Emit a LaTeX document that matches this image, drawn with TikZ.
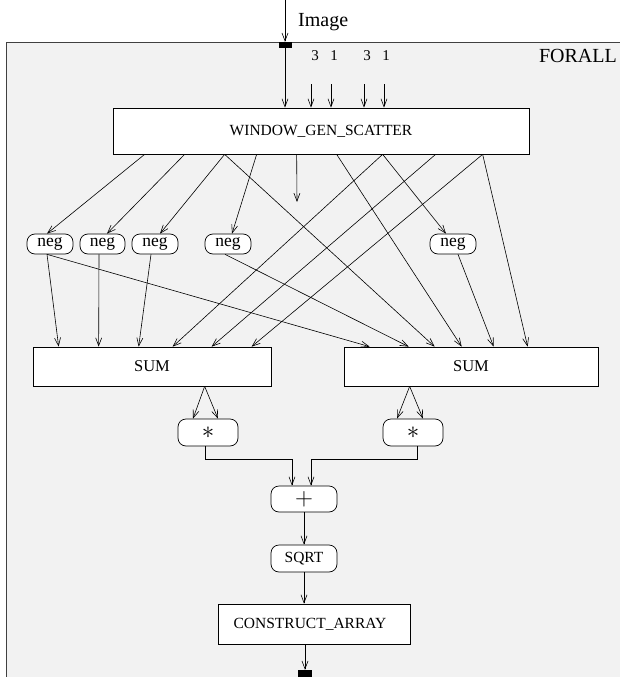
\documentclass[tikz,border=0pt]{standalone}
\usepackage{fontspec}
\setmainfont{Liberation Serif}
\usetikzlibrary{arrows.meta,calc}
\begin{document}
\begin{tikzpicture}[x=1pt,y=-1pt,
  arr/.style={-{Straight Barb[length=8pt,width=6pt]}, line width=0.6pt},
  box/.style={draw, fill=white, line width=0.7pt, inner sep=0pt, font=\fontsize{15.5}{16}\selectfont},
  rbox/.style={box, rounded corners=8pt},
  negbox/.style={rbox, minimum width=46pt, minimum height=20pt, font=\fontsize{17.5}{17.5}\selectfont},
  sumbox/.style={box, minimum height=39pt, font=\fontsize{16.5}{16.5}\selectfont},
  opbox/.style={rbox, minimum width=60pt, minimum height=27pt, font=\fontsize{26}{26}\selectfont},
  port/.style={fill=black, inner sep=0pt, minimum width=13pt, minimum height=6pt},
  lbl/.style={inner sep=0pt, font=\fontsize{20}{20}\selectfont},
  num/.style={inner sep=0pt, font=\fontsize{15}{15}\selectfont}]
\useasboundingbox (0,0) rectangle (620,677);
% FORALL frame
\draw[fill=black!5, draw=black!75, line width=0.8pt] (6,42) rectangle (640,700);
\node[lbl, anchor=east] (forall) at (617,56) {FORALL};
% input port
\coordinate (src) at (285,0);
\node[port] (pin) at (285,45) {};
\node[lbl, anchor=west] (imglbl) at (298,22) {Image};
% window generator
\node[box, minimum width=416pt, minimum height=46pt] (W) at (321,131) {\raisebox{-6pt}{WINDOW\_GEN\_SCATTER}};
\draw[arr] (src) -- (pin.north);
\draw[arr] (pin.south) -- (pin.south |- W.north);
% constant inputs
\node[num] (n1) at (315,56) {3};
\node[num] (n2) at (334,56) {1};
\node[num] (n3) at (367,56) {3};
\node[num] (n4) at (386,56) {1};
\coordinate (c1) at (311,84);
\coordinate (c2) at (331,84);
\coordinate (c3) at (364,84);
\coordinate (c4) at (384,84);
\foreach \c in {c1,c2,c3,c4} \draw[arr] (\c) -- (\c |- W.north);
% neg nodes
\node[negbox] (g1) at (50,244) {neg};
\node[negbox, minimum width=45pt] (g2) at (102.5,244) {neg};
\node[negbox] (g3) at (155,244) {neg};
\node[negbox] (g4) at (228,244) {neg};
\node[negbox] (g5) at (453,244) {neg};
% sums
\node[sumbox, minimum width=238pt] (S1) at (152,366.5) {SUM};
\node[sumbox, minimum width=254pt] (S2) at (471,366.5) {SUM};
\coordinate (dangle) at (297,202);
% window outputs
\draw[arr] ([xshift=32pt]W.south west) -- ([xshift=-3pt]g1.north);
\draw[arr] ([xshift=72pt]W.south west) -- ([xshift=4.5pt]g2.north);
\draw[arr] ([xshift=112pt]W.south west) -- ([xshift=5pt]g3.north);
\draw[arr] ([xshift=144pt]W.south west) -- ([xshift=4pt]g4.north);
\draw[arr] ([xshift=184pt]W.south west) -- (dangle);
\draw[arr] ([xshift=112pt]W.south west) -- ([xshift=91pt]S2.north west);
\draw[arr] ([xshift=224pt]W.south west) -- ([xshift=118pt]S2.north west);
\draw[arr] ([xshift=270pt]W.south west) -- ([xshift=140pt]S1.north west);
\draw[arr] ([xshift=270pt]W.south west) -- ([xshift=-7pt]g5.north);
\draw[arr] ([xshift=323pt]W.south west) -- ([xshift=179pt]S1.north west);
\draw[arr] ([xshift=370pt]W.south west) -- ([xshift=219pt]S1.north west);
\draw[arr] ([xshift=370pt]W.south west) -- ([xshift=184pt]S2.north west);
% neg outputs
\draw[arr] ([xshift=-3pt]g1.south) -- ([xshift=26pt]S1.north west);
\draw[arr] ([xshift=-3pt]g1.south) -- ([xshift=26pt]S2.north west);
\draw[arr] ([xshift=-3.5pt]g2.south) -- ([xshift=66pt]S1.north west);
\draw[arr] ([xshift=-4pt]g3.south) -- ([xshift=106pt]S1.north west);
\draw[arr] ([xshift=-3pt]g4.south) -- ([xshift=65pt]S2.north west);
\draw[arr] ([xshift=5pt]g5.south) -- ([xshift=150pt]S2.north west);
% products
\node[opbox] (a1) at (208,432.5) {$\ast$};
\node[opbox] (a2) at (413,432.5) {$\ast$};
\draw[arr] ([xshift=172pt]S1.south west) -- ([xshift=-15pt]a1.north);
\draw[arr] ([xshift=172pt]S1.south west) -- ([xshift=10pt]a1.north);
\draw[arr] ([xshift=66pt]S2.south west) -- ([xshift=-16pt]a2.north);
\draw[arr] ([xshift=66pt]S2.south west) -- ([xshift=10pt]a2.north);
% plus, sqrt, construct
\node[opbox, minimum width=66pt, minimum height=26pt] (plus) at (304,499) {$+$};
\node[rbox, minimum width=66pt, minimum height=27pt] (sq) at (304,558.5) {SQRT};
\node[box, minimum width=192pt, minimum height=40pt] (CA) at (314,624) {\hspace*{-8pt}CONSTRUCT\_ARRAY};
\node[port, minimum width=14pt, minimum height=7pt] (pout) at (305,673.5) {};
\draw[arr] ([xshift=-3pt]a1.south) -- ++(0,13) -| ([xshift=-12pt]plus.north);
\draw[arr] ([xshift=4pt]a2.south) -- ++(0,13) -| ([xshift=7pt]plus.north);
\draw[arr] (plus.south) -- (sq.north);
\draw[arr] (sq.south) -- ([xshift=-10pt]CA.north);
\draw[arr] ([xshift=-9pt]CA.south) -- (pout.north);
\end{tikzpicture}
\end{document}
